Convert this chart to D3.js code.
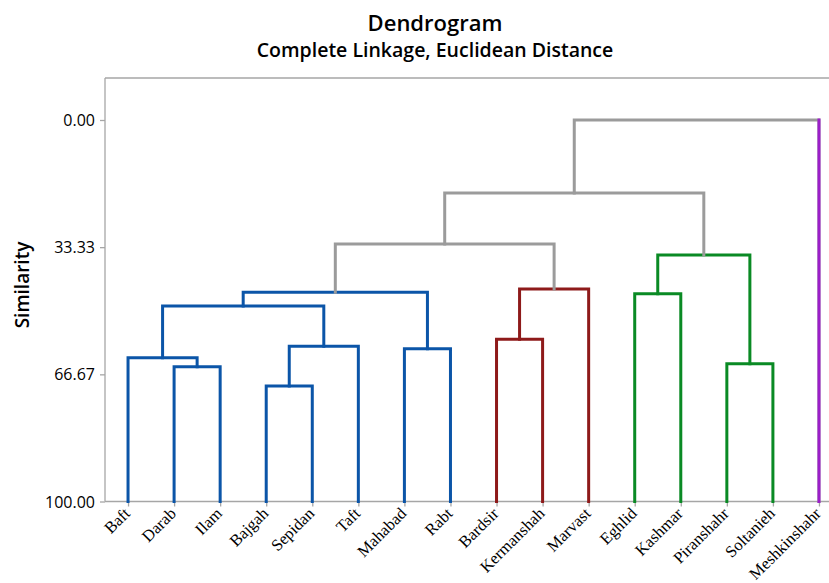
<!DOCTYPE html>
<html>
<head>
<meta charset="utf-8">
<script src="https://cdn.jsdelivr.net/npm/d3@7"></script>
<style>
  html, body { margin: 0; padding: 0; background: #fff; }
  svg { display: block; }
</style>
</head>
<body>
<svg id="chart" width="829" height="583"></svg>
<script>
// Leaves in dendrogram order
const leaves = ["Baft", "Darab", "Ilam", "Bajgah", "Sepidan", "Taft", "Mahabad", "Rabt",
  "Bardsir", "Kermanshah", "Marvast", "Eghlid", "Kashmar", "Piranshahr", "Soltanieh", "Meshkinshahr"];
// Final cluster of each leaf
const leafCluster = [0, 0, 0, 0, 0, 0, 0, 0, 1, 1, 1, 2, 2, 2, 2, 3];
const clusterColors = ["#0B55A8", "#8E1A1A", "#0A8A24", "#9B1FC9"];
const mixedColor = "#9B9B9B";

// Merge steps: an index < 16 is a leaf, an index >= 16 is merge (index - 16)
const mergeLeft  = [1, 0, 3, 18, 17, 6, 20, 8, 23, 22, 11, 13, 26, 25, 29];
const mergeRight = [2, 16, 4, 5, 19, 7, 21, 9, 10, 24, 12, 14, 27, 28, 15];
const mergeSimilarity = [64.67, 62.31, 69.72, 59.32, 48.75, 59.95, 45.16, 57.48, 44.30,
  32.50, 45.53, 63.88, 35.39, 19.13, 0.00];

const yTicks = [0, 33.33, 66.67, 100];

(function () {
  const svg = d3.select("#chart");
  const plotLeft = 105, plotRight = 842, plotTop = 78, plotBottom = 501.5;

  const x = d3.scalePoint().domain(d3.range(leaves.length)).range([plotLeft, plotRight]).padding(0.5);
  const y = d3.scaleLinear().domain([0, 100]).range([120, plotBottom]);

  // Node positions and colours
  const n = leaves.length;
  const nodes = leaves.map((name, i) => ({ x: x(i), s: 100, clusters: new Set([leafCluster[i]]), leaf: true }));
  mergeLeft.forEach((l, k) => {
    const a = nodes[l], b = nodes[mergeRight[k]];
    const cl = new Set([...a.clusters, ...b.clusters]);
    nodes.push({ x: (a.x + b.x) / 2, s: mergeSimilarity[k], clusters: cl, leaf: false });
  });
  const colorOf = nd => nd.clusters.size === 1 ? clusterColors[[...nd.clusters][0]] : mixedColor;

  // Frame: top border, left axis, bottom axis
  svg.append("line").attr("x1", plotLeft).attr("x2", 829).attr("y1", plotTop).attr("y2", plotTop)
    .attr("stroke", "#A6A6A6").attr("stroke-width", 1.3);

  const yAxis = svg.append("g").attr("transform", `translate(${plotLeft},0)`)
    .call(d3.axisLeft(y).tickValues(yTicks).tickFormat(d3.format(".2f")).tickSizeOuter(0).tickSize(5));
  yAxis.select(".domain").attr("d", `M0,${plotTop}V${plotBottom}`);
  yAxis.selectAll("line, path").attr("stroke", "#A6A6A6").attr("stroke-width", 1.3);
  yAxis.selectAll("text").attr("font-family", "'Open Sans', sans-serif").attr("font-size", 16)
    .attr("fill", "#000").attr("x", -10).attr("dy", "0.35em");

  const xAxis = svg.append("g").attr("transform", `translate(0,${plotBottom})`)
    .call(d3.axisBottom(x).tickSize(5).tickSizeOuter(0).tickFormat(""));
  xAxis.select(".domain").attr("d", `M${plotLeft},0H829`);
  xAxis.selectAll("line, path").attr("stroke", "#A6A6A6").attr("stroke-width", 1.3);

  // Links
  const links = svg.append("g").attr("fill", "none").attr("stroke-width", 3)
    .attr("stroke-linejoin", "miter").attr("stroke-linecap", "square");
  mergeLeft.forEach((l, k) => {
    const p = nodes[n + k], a = nodes[l], b = nodes[mergeRight[k]];
    const c = colorOf(p);
    links.append("path")
      .attr("d", `M${a.x},${y(a.s)}V${y(p.s)}H${b.x}V${y(b.s)}`)
      .attr("stroke", c);
    [a, b].forEach(ch => {
      if (ch.leaf && colorOf(ch) !== c) {
        links.append("path").attr("d", `M${ch.x},${y(ch.s)}V${y(p.s)}`).attr("stroke", colorOf(ch));
      }
    });
  });

  // Leaf labels
  svg.append("g").selectAll("text").data(leaves).join("text")
    .attr("transform", (d, i) => `translate(${x(i) + 3},${plotBottom + 13}) rotate(-45)`)
    .attr("text-anchor", "end")
    .attr("font-family", "'Liberation Serif', 'Times New Roman', serif")
    .attr("font-size", 16.5)
    .attr("fill", "#000")
    .text(d => d);

  // Titles
  svg.append("text").attr("x", 435).attr("y", 31).attr("text-anchor", "middle")
    .attr("font-family", "'Open Sans', sans-serif").attr("font-weight", 600).attr("font-size", 22)
    .text("Dendrogram");
  svg.append("text").attr("x", 435).attr("y", 57).attr("text-anchor", "middle")
    .attr("font-family", "'Open Sans', sans-serif").attr("font-weight", 600).attr("font-size", 19.5)
    .text("Complete Linkage, Euclidean Distance");

  // Y axis title
  svg.append("text").attr("transform", "translate(29,285) rotate(-90)").attr("text-anchor", "middle")
    .attr("font-family", "'Open Sans', sans-serif").attr("font-weight", 600).attr("font-size", 19)
    .text("Similarity");
})();
</script>
</body>
</html>
